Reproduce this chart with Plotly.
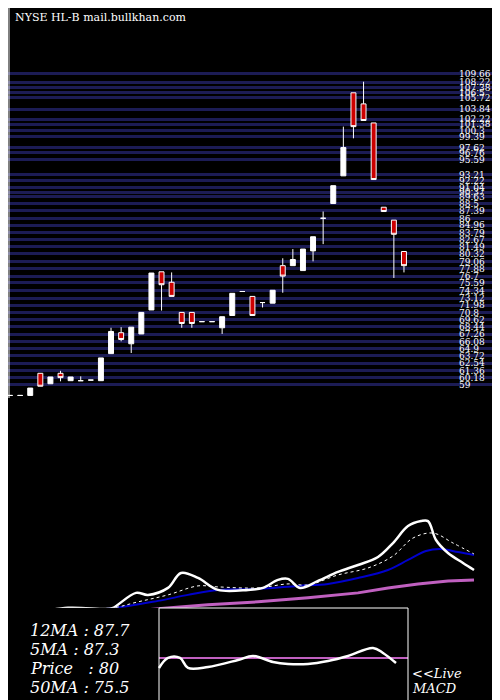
import plotly.graph_objects as go

# price candles
idx = list(range(40))
opens = [57.3, 57.3, 57.3, 60.9, 59.2, 60.9, 59.7, 59.7, 59.8, 59.7,
         64.1, 67.5, 65.7, 67.3, 71.2, 77.4, 75.7, 70.8, 70.8, 69.3,
         69.3, 68.3, 70.3, 74.2, 73.4, 72.4, 72.3, 78.4, 78.4, 77.6,
         80.8, 86.1, 88.5, 93.0, 106.5, 104.7, 101.6, 87.9, 85.8, 80.7]
highs = [57.3, 57.3, 58.5, 60.9, 60.3, 61.3, 60.3, 60.4, 59.8, 63.4,
         68.3, 68.4, 68.4, 70.8, 77.2, 77.4, 77.3, 70.8, 70.8, 69.3,
         69.3, 70.1, 73.9, 74.2, 73.4, 72.4, 74.4, 79.6, 81.1, 81.1,
         83.1, 87.2, 91.4, 101.0, 106.5, 108.3, 101.6, 87.9, 85.8, 80.7]
lows = [57.3, 57.3, 57.3, 58.8, 59.2, 59.6, 59.7, 59.7, 59.8, 59.7,
        64.1, 66.1, 64.2, 67.3, 71.2, 71.1, 73.4, 68.3, 68.3, 69.3,
        69.3, 67.3, 70.3, 74.2, 70.3, 71.6, 72.3, 74.0, 78.4, 77.6,
        79.1, 81.9, 88.5, 93.0, 99.1, 102.0, 92.4, 87.2, 76.4, 77.3]
closes = [57.3, 57.3, 58.5, 58.8, 60.3, 60.2, 60.3, 59.7, 59.8, 63.4,
          67.7, 66.4, 68.4, 70.8, 77.2, 75.3, 73.4, 69.0, 69.0, 69.3,
          69.3, 70.1, 73.9, 74.2, 70.3, 72.4, 74.4, 76.7, 79.4, 81.1,
          83.1, 86.1, 91.4, 97.6, 101.0, 102.0, 92.4, 87.2, 83.5, 78.4]

price_ticks = [109.66, 108.22, 107.38, 106.5, 105.72, 103.84, 102.22, 101.38, 100.3,
               99.39, 97.62, 96.76, 95.59, 93.21, 92.22, 91.04, 90.37, 89.63, 88.5,
               87.39, 86, 84.96, 83.79, 82.67, 81.49, 80.32, 79.06, 77.88, 76.7,
               75.59, 74.34, 73.12, 71.98, 70.8, 69.62, 68.44, 67.26, 66.08, 64.9,
               63.72, 62.54, 61.36, 60.18, 59]

# moving averages panel (levels)
ma5_x = [0, 30, 60, 100, 105, 128, 140, 160, 173, 190, 210, 240, 255, 270, 280, 292,
         310, 330, 350, 370, 385, 400, 413, 420, 428, 440, 455, 466]
ma5_y = [95, 96, 100, 99, 100, 115, 113, 120, 135, 130, 118, 118, 120, 128, 129, 120,
         127, 136, 143, 151, 165, 182, 187, 187, 168, 155, 145, 138]
ma12_x = [0, 100, 130, 160, 190, 210, 250, 280, 300, 330, 360, 385, 405, 425, 445, 466]
ma12_y = [95, 99, 106, 113, 122, 121, 120, 124, 123, 133, 140, 152, 170, 175, 165, 154]
ma20_x = [0, 50, 100, 150, 180, 210, 250, 290, 320, 350, 380, 400, 418, 432, 450, 466]
ma20_y = [95, 96, 99, 107, 113, 118, 119, 122, 124, 130, 138, 148, 157, 159, 156, 153]
ma50_x = [0, 50, 100, 150, 200, 250, 300, 350, 380, 410, 440, 466]
ma50_y = [91, 92, 94, 99, 103, 106, 110, 115, 120, 124, 127, 128]

macd_x = [151, 160, 172, 180, 200, 230, 245, 265, 280, 300, 320, 340, 365, 375, 388]
macd_y = [40, 50, 50, 40, 41, 48, 52, 46, 44, 44, 47, 52, 60, 55, 45]
signal_level = 50

labels = ["12MA : 87.7", "5MA : 87.3", "Price   : 80", "50MA : 75.5"]

fig = go.Figure()
fig.add_trace(go.Candlestick(
    x=idx, open=opens, high=highs, low=lows, close=closes,
    increasing=dict(line=dict(color="white", width=1), fillcolor="white"),
    decreasing=dict(line=dict(color="white", width=1), fillcolor="#cc0000"),
    whiskerwidth=0, showlegend=False))

fig.add_trace(go.Scatter(x=ma50_x, y=ma50_y, mode="lines", line=dict(color="#c060c0", width=3),
                         xaxis="x2", yaxis="y2", showlegend=False))
fig.add_trace(go.Scatter(x=ma20_x, y=ma20_y, mode="lines", line=dict(color="#0000cc", width=2, shape="spline"),
                         xaxis="x2", yaxis="y2", showlegend=False))
fig.add_trace(go.Scatter(x=ma12_x, y=ma12_y, mode="lines", line=dict(color="white", width=1, dash="dot", shape="spline"),
                         xaxis="x2", yaxis="y2", showlegend=False))
fig.add_trace(go.Scatter(x=ma5_x, y=ma5_y, mode="lines", line=dict(color="white", width=2.5, shape="spline"),
                         xaxis="x2", yaxis="y2", showlegend=False))

fig.add_trace(go.Scatter(x=[151, 400], y=[signal_level, signal_level], mode="lines",
                         line=dict(color="#c060c0", width=2), xaxis="x3", yaxis="y3", showlegend=False))
fig.add_trace(go.Scatter(x=macd_x, y=macd_y, mode="lines", line=dict(color="white", width=2.5, shape="spline"),
                         xaxis="x3", yaxis="y3", showlegend=False))

fig.update_layout(
    width=500, height=700, margin=dict(l=0, r=0, t=0, b=0),
    paper_bgcolor="black", plot_bgcolor="black",
    xaxis=dict(domain=[0, 1], range=[-0.2, 49.3], visible=False, rangeslider=dict(visible=False)),
    yaxis=dict(domain=[0.44, 0.914], range=[56.56, 110.5], side="right", anchor="free", position=0.9,
               tickvals=price_ticks, ticktext=[str(t) for t in price_ticks], ticks="",
               tickfont=dict(family="DejaVu Serif", size=9, color="white"),
               showgrid=True, gridcolor="#1c1c55", gridwidth=3, zeroline=False, showline=False),
    xaxis2=dict(domain=[0, 1], range=[0, 500], visible=False, anchor="y2"),
    yaxis2=dict(domain=[0.126, 0.314], range=[88, 220], visible=False, anchor="x2"),
    xaxis3=dict(domain=[0, 1], range=[0, 500], visible=False, anchor="y3"),
    yaxis3=dict(domain=[0, 0.143], range=[0, 100], visible=False, anchor="x3"),
    shapes=[
        dict(type="rect", xref="paper", yref="paper", x0=151/500, x1=400/500, y0=0, y1=100/700,
             line=dict(color="white", width=1)),
        dict(type="line", xref="paper", yref="paper", x0=0.002, x1=0.002, y0=310/700, y1=1,
             line=dict(color="white", width=1)),
    ],
)

anns = [dict(x=5/500, y=1-10/700, text="NYSE HL-B mail.bullkhan.com", font=dict(size=11, color="white"))]
for i, t in enumerate(labels):
    anns.append(dict(x=20/500, y=1-(622+19*i)/700, text="<i>" + t + "</i>", font=dict(size=16, color="white")))
anns.append(dict(x=402/500, y=1-665/700, text="<i>&lt;&lt;Live</i>", font=dict(size=13, color="white")))
anns.append(dict(x=402/500, y=1-680/700, text="<i>MACD</i>", font=dict(size=13, color="white")))
for a in anns:
    a.update(xref="paper", yref="paper", xanchor="left", yanchor="middle", showarrow=False)
    a["font"]["family"] = "DejaVu Serif"
fig.update_layout(annotations=anns)

fig.write_html("out.html")
